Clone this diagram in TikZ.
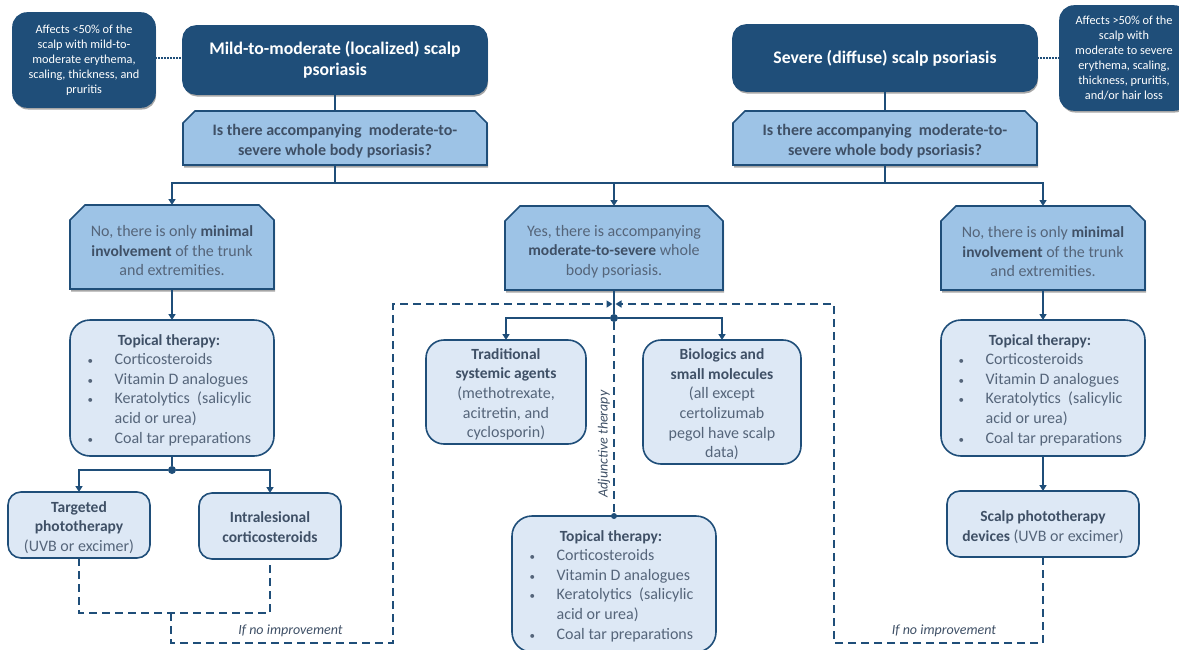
\documentclass[tikz,border=0pt]{standalone}
\usepackage{fontspec}
\setmainfont{Carlito}
\usetikzlibrary{arrows.meta,shapes.misc,shadows,positioning,calc}
\definecolor{navy}{HTML}{1F4E79}
\definecolor{midblue}{HTML}{9DC3E6}
\definecolor{paleblue}{HTML}{DDE8F5}
\definecolor{ink}{HTML}{55657A}
\definecolor{inkb}{HTML}{3F5066}
\newcommand{\hb}[1]{{\fontsize{15.5}{19.6}\selectfont\textbf{\textcolor{inkb}{#1}}}}
\newcommand{\hbq}[1]{{\fontsize{16}{19.6}\selectfont\textbf{\textcolor{inkb}{#1}}}}
\newcommand{\gap}[1]{\rule{0pt}{#1pt}}
\newcommand{\bitem}[1]{\makebox[28pt][l]{\hspace{1pt}\fontsize{11}{11}\selectfont •}#1}
\newcommand{\bcont}[1]{\hspace*{28pt}#1}
\newcommand{\topicallist}{\begin{tabular}{@{}l@{\hspace{6pt}}}\multicolumn{1}{@{}c@{\hspace{6pt}}}{\rule{0pt}{18pt}\hb{Topical therapy:}}\\[0pt]
   \bitem{Corticosteroids}\\\bitem{Vitamin D analogues}\\\bitem{Keratolytics\ \ (salicylic}\\\bcont{acid or urea)}\\\bitem{Coal tar preparations}\end{tabular}}
\tikzset{
  softshadow/.style={drop shadow={shadow xshift=1pt,shadow yshift=-2.5pt,opacity=.35,fill=black}},
  basebox/.style={inner sep=0pt,outer sep=0pt,align=center,line width=1.6pt,draw=navy},
  darkbox/.style={basebox,fill=navy,text=white,rounded corners=13pt,softshadow},
  notetext/.style={font=\fontsize{12.3}{15}\selectfont},
  titletext/.style={font=\fontsize{17.7}{21.5}\selectfont\bfseries},
  cham/.style={basebox,fill=midblue,text=ink,chamfered rectangle,
    chamfered rectangle corners={north west,north east},softshadow,
    font=\fontsize{16}{19.6}\selectfont},
  lightbox/.style={basebox,fill=paleblue,text=ink,rounded corners=#1,
    font=\fontsize{16}{19.6}\selectfont},
  lightbox/.default=18pt,
  flow/.style={draw=navy,line width=1.6pt},
  flowarrow/.style={flow,-{Triangle[width=7pt,length=6pt]}},
  feedback/.style={draw=navy,line width=1.6pt,dash pattern=on 8pt off 5pt},
  feedarrow/.style={feedback,-{Triangle[width=7pt,length=6pt]}},
  linknote/.style={draw=navy,line width=1.6pt,dash pattern=on 1.5pt off 1.5pt},
  jdot/.style={circle,fill=navy,inner sep=0pt,minimum size=8pt},
  ilabel/.style={text=inkb,font=\fontsize{14}{16}\selectfont\itshape,inner sep=0pt},
}
\begin{document}
\begin{tikzpicture}[x=1pt,y=-1pt]
\useasboundingbox (0,0) rectangle (1179,649);
% header row
\node[darkbox,notetext,minimum width=142pt,minimum height=94pt,rounded corners=14pt] (noteL) at (84,60)
  {Affects <50\% of the\\scalp with mild-to-\\moderate erythema,\\scaling, thickness, and\\pruritis};
\node[darkbox,titletext,minimum width=304pt,minimum height=68pt] (titleL) at (335,60)
  {Mild-to-moderate (localized) scalp\\psoriasis};
\node[darkbox,titletext,minimum width=304pt,minimum height=66pt] (titleR) at (885,58)
  {Severe (diffuse) scalp psoriasis};
\node[darkbox,notetext,minimum width=128pt,minimum height=104pt,rounded corners=14pt] (noteR) at (1124,58)
  {Affects >50\% of the\\scalp with\\moderate to severe\\erythema, scaling,\\thickness, pruritis,\\and/or hair loss};
% questions
\node[cham,chamfered rectangle xsep=5pt,chamfered rectangle ysep=7pt,minimum width=304pt,minimum height=54pt] (qL) at (335,138)
  {\gap{17.5}\hbq{Is there accompanying\ \ moderate-to-}\\\hbq{severe whole body psoriasis?}};
\node[cham,chamfered rectangle xsep=5pt,chamfered rectangle ysep=7pt,minimum width=304pt,minimum height=54pt] (qR) at (885,138)
  {\gap{17.5}\hbq{Is there accompanying\ \ moderate-to-}\\\hbq{severe whole body psoriasis?}};
% answers
\node[cham,chamfered rectangle xsep=6pt,chamfered rectangle ysep=9pt,minimum width=204pt,minimum height=84pt] (noL) at (172,247)
  {\gap{18.5}No, there is only \hb{minimal}\\\hb{involvement} of the trunk\\and extremities.};
\node[cham,chamfered rectangle xsep=6pt,chamfered rectangle ysep=9pt,minimum width=218pt,minimum height=84pt] (yes) at (614,248)
  {\gap{18.5}Yes, there is accompanying\\\hb{moderate-to-severe} whole\\body psoriasis.};
\node[cham,chamfered rectangle xsep=6pt,chamfered rectangle ysep=9pt,minimum width=204pt,minimum height=84pt] (noR) at (1043,248)
  {\gap{18.5}No, there is only \hb{minimal}\\\hb{involvement} of the trunk\\and extremities.};
% topical
\node[lightbox=20pt,minimum width=204pt,minimum height=136pt] (topL) at (172,388) {\topicallist};
\node[lightbox=20pt,minimum width=204pt,minimum height=136pt] (topR) at (1043,388) {\topicallist};
\node[lightbox=20pt,minimum width=204pt,minimum height=136pt] (topM) at (614,584) {\topicallist};
% lower left
\node[lightbox=13pt,minimum width=142pt,minimum height=66pt] (photo) at (79,525)
  {\gap{15.5}\hb{Targeted}\\\hb{phototherapy}\\(UVB or excimer)};
\node[lightbox=13pt,minimum width=142pt,minimum height=66pt] (intra) at (270,526)
  {\gap{13}\hb{Intralesional}\\\hb{corticosteroids}};
% middle
\node[lightbox=18pt,minimum width=160pt,minimum height=104pt] (trad) at (506,392)
  {\gap{15.5}\hb{Traditional}\\\hb{systemic agents}\\(methotrexate,\\acitretin, and\\cyclosporin)};
\node[lightbox=18pt,minimum width=158pt,minimum height=124pt] (bio) at (722,402)
  {\gap{15.5}\hb{Biologics and}\\\hb{small molecules}\\(all except\\certolizumab\\pegol have scalp\\data)};
% lower right
\node[lightbox=13pt,minimum width=192pt,minimum height=66pt] (scalp) at (1043,524)
  {\gap{17}\hb{Scalp phototherapy}\\\hb{devices} (UVB or excimer)};
% junctions
\coordinate (busL) at (335,183);
\coordinate (busR) at (885,183);
\coordinate (busM) at (614,183);
\node[jdot] (dotM) at (614,318) {};
\node[jdot] (dotL) at (172,470) {};
\node[jdot,minimum size=6pt] (dotT) at (614,516) {};
\coordinate (feedJoinL) at (612.5,304);
\coordinate (feedJoinR) at (615.5,304);
\coordinate (dashLow) at (79,613);
\coordinate (dashLowR) at (270,613);
\coordinate (dashJoin) at (171,613);
\coordinate (feedLbot) at (171,643);
\coordinate (feedLrise) at (393,643);
\coordinate (feedLtop) at (393,304);
\coordinate (feedRbot) at (1043,643);
\coordinate (feedRrise) at (834,643);
\coordinate (feedRtop) at (834,304);
% solid connectors
\draw[flow] (titleL) -- (qL);
\draw[flow] (titleR) -- (qR);
\draw[flow] (qL.south) -- (busL);
\draw[flow] (qR.south) -- (busR);
\draw[flowarrow] (busL) -| (noL.north);
\draw[flowarrow] (busR) -| (noR.north);
\draw[flow] (busL) -- (busR);
\draw[flowarrow] (busM) -- (yes.north);
\draw[flowarrow] (noL.south) -- (topL.north);
\draw[flow] (yes.south) -- (dotM);
\draw[flowarrow] (dotM) -| (trad.north);
\draw[flowarrow] (dotM) -| (bio.north);
\draw[flow] (topL.south) -- (dotL);
\draw[flowarrow] (dotL) -| (photo.north);
\draw[flowarrow] (dotL) -| (intra.north);
\draw[flowarrow] (noR.south) -- (topR.north);
\draw[flowarrow] (topR.south) -- (scalp.north);
% dotted links
\draw[linknote] (noteL.east |- titleR) -- (titleL.west |- titleR);
\draw[linknote] (titleR.east) -- (noteR.west |- titleR);
% dashed connectors
\draw[feedback] (dotM) -- (dotT);
\draw[feedback] (photo.south) -- (dashLow) -- (dashLowR) -- (intra.south);
\draw[feedarrow] (dashJoin) -- (feedLbot) -- (feedLrise) -- (feedLtop) -- (feedJoinL);
\draw[feedarrow] (scalp.south) -- (feedRbot) -- (feedRrise) -- (feedRtop) -- (feedJoinR);
% labels
\node[ilabel] (lblL) at (290.5,631) {If no improvement};
\node[ilabel] (lblR) at (944,631) {If no improvement};
\node[ilabel,rotate=90] (lblA) at (604,444) {Adjunctive therapy};
\end{tikzpicture}
\end{document}
